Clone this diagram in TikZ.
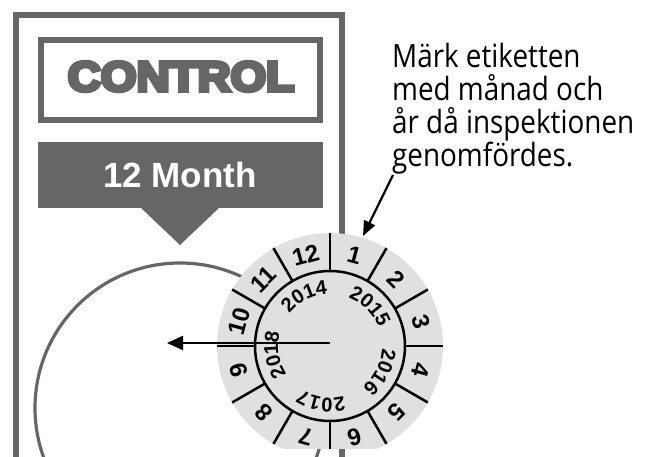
\documentclass[tikz,border=0pt]{standalone}
\usepackage{fontspec}
\setmainfont{Liberation Sans}
\newfontfamily\swfont{Open Sans}
\font\heavyfont="Liberation Sans Bold:embolden=9" at 42pt
\usetikzlibrary{arrows.meta,decorations.text}
\definecolor{framegray}{HTML}{666666}
\definecolor{diskgray}{HTML}{E0E0E0}
\tikzset{
  frameline/.style={draw=framegray, line width=6pt, miter limit=10},
  bigcircle/.style={draw=framegray, line width=3.2pt},
  divider/.style={draw=black, line width=2.5pt},
  monthlabel/.style={font=\bfseries\fontsize{24}{24}\selectfont, inner sep=0pt},
  pointer/.style={draw=black, line width=2.2pt, -{Triangle[length=16pt,width=14pt]}},
}
\begin{document}
\begin{tikzpicture}[x=1pt,y=-1pt]
\useasboundingbox (0,0) rectangle (648,457);
% outer frame
\draw[frameline] (16,457) -- (16,15) -- (341.5,15) -- (341.5,457);
% CONTROL box
\draw[frameline] (41,40) rectangle (320,120);
\node[font=\heavyfont, text=framegray, anchor=base, xscale=1.09, inner sep=0pt] (control) at (181,91) {CONTROL};
% 12 Month banner
\fill[framegray] (38,142) rectangle (323,208);
\fill[framegray] (140,207) -- (220,207) -- (180,245) -- cycle;
\node[font=\bfseries\fontsize{35}{35}\selectfont, text=white, anchor=base, inner sep=0pt] (month) at (180,188) {12 Month};
% big circle
\draw[bigcircle] (180,408) circle (145pt);
% disk
\coordinate (dc) at (330,346);
\begin{scope}
  \clip (0,0) rectangle (648,448);
  \fill[diskgray] (dc) circle (113pt);
  \begin{scope}[shift={(dc)}]
    \foreach \a in {0,30,...,330} {\draw[divider] (\a:75pt) -- (\a:113pt);}
    \draw[divider] (0,0) circle (75pt);
    \foreach \k in {1,...,12} {
      \pgfmathsetmacro\ang{105-30*\k}
      \node[monthlabel, rotate=\ang-90] (m\k) at (\ang:94pt) {\k};
    }
    \foreach \y/\ang in {2014/117,2015/45,2016/-27,2017/-99,2018/-171} {
      \path[decorate, decoration={text along path, text align=center,
          text={|\bfseries\fontsize{20}{20}\selectfont|\y}}]
        (\ang+45:52pt) arc[start angle=\ang+45, end angle=\ang-45, radius=52pt];
    }
  \end{scope}
\end{scope}
% arrow to the left
\coordinate (arrstart) at (330,343);
\coordinate (arrtip) at (167,343);
\draw[pointer] (arrstart) -- (arrtip);
% Swedish text
\node[font=\swfont\fontsize{32}{33}\selectfont, anchor=base west, xscale=0.87, inner sep=0pt, align=left] (note) at (392,167)
  {Märk etiketten\\med månad och\\år då inspektionen\\genomfördes.};
\coordinate (notefoot) at (393,175);
\coordinate (disktop) at (363,236);
\draw[pointer, -{Triangle[length=15pt,width=12pt]}] (notefoot) -- (disktop);
\end{tikzpicture}
\end{document}
